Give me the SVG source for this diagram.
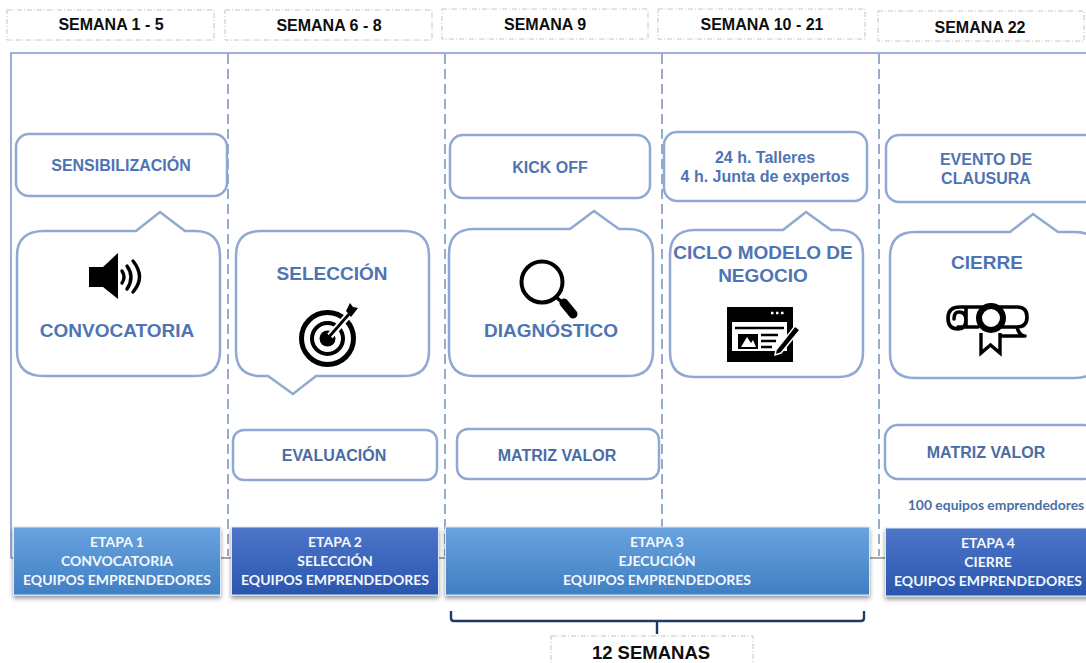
<svg xmlns="http://www.w3.org/2000/svg" width="1086" height="663" viewBox="0 0 1086 663">
<style>
text{font-family:"Liberation Sans",Arial,sans-serif;font-weight:700;text-anchor:middle}
.wk{fill:#0d0d0d;font-size:16px}
.wkbox{fill:#fff;stroke:#c4c4c4;stroke-width:1;stroke-dasharray:5 2 1 2}
.shape{fill:#fff;stroke:#8fa8d4;stroke-width:2.5}
.lb{fill:#4f74b3;font-size:16px}
.lg{fill:#4f74b3;font-size:19px}
.dk{fill:#4a6ca6}
.et{fill:#f4f8fd;font-family:"Lato","Open Sans",sans-serif;font-size:14px}
.note{fill:#4a6fa8;font-family:"Lato","Open Sans",sans-serif;font-size:13.900px}
.div{fill:none;stroke:#7f97bd;stroke-width:1.6;stroke-dasharray:10 5}
.ic{fill:#000}
.icl{fill:none;stroke:#000;stroke-linecap:round}
</style>
<defs>
<linearGradient id="gl" x1="0" y1="0" x2="0" y2="1"><stop offset="0" stop-color="#6aa3df"/><stop offset="1" stop-color="#3f7fc3"/></linearGradient>
<linearGradient id="gd" x1="0" y1="0" x2="0" y2="1"><stop offset="0" stop-color="#4d76c9"/><stop offset="1" stop-color="#2a56ae"/></linearGradient>
<filter id="sh" x="-5%" y="-10%" width="110%" height="125%"><feDropShadow dx="0" dy="3" stdDeviation="2" flood-color="#000" flood-opacity=".4"/></filter>
</defs>
<rect width="1086" height="663" fill="#fff"/>
<g id="connectors">
<path d="M11 558V53H1086" fill="none" stroke="#7f9ad0" stroke-width="1.6"/>
<path d="M11 558H1086" fill="none" stroke="#8a8a8a" stroke-width="1.4"/>
<path class="div" d="M228 54V556M445 54V556M662 54V527M879 54V556"/>
<path d="M451 611V618Q451 621 454 621H861Q864 621 864 618V611M657 621V634" fill="none" stroke="#1f3864" stroke-width="2.4"/>
</g>
<g id="week-1"><rect class="wkbox" x="7" y="10" width="207" height="30"/><text class="wk" x="111" y="30">SEMANA 1 - 5</text></g>
<g id="week-2"><rect class="wkbox" x="225" y="10" width="207" height="30"/><text class="wk" x="329" y="31">SEMANA 6 - 8</text></g>
<g id="week-3"><rect class="wkbox" x="442" y="9" width="206" height="30"/><text class="wk" x="545" y="30">SEMANA 9</text></g>
<g id="week-4"><rect class="wkbox" x="658" y="9" width="207" height="30"/><text class="wk" x="762" y="30">SEMANA 10 - 21</text></g>
<g id="week-5"><rect class="wkbox" x="878" y="11" width="206" height="30"/><text class="wk" x="980" y="33">SEMANA 22</text></g>

<g id="sensibilizacion"><rect class="shape" x="16" y="134" width="211" height="62" rx="13"/><text class="lb" x="121" y="171">SENSIBILIZACIÓN</text></g>
<g id="convocatoria">
<path class="shape" d="M44 231H136L160 212L185 231H195Q220 231 220 256V351Q220 376 195 376H44Q17 376 17 351V256Q17 231 44 231Z"/>
<path class="ic" d="M89 267H103L118 253V299L103 287H89Z"/>
<path class="icl" stroke-width="3.400" d="M122 271Q126 277 122 283M127 266Q135 277 127 289M133 261Q146 277 133 292"/>
<text class="lg" x="117" y="337">CONVOCATORIA</text></g>
<g id="seleccion">
<path class="shape" d="M261 231H404Q429 231 429 256V351Q429 376 404 376H316L293 394L268 376H261Q236 376 236 351V256Q236 231 261 231Z"/>
<text class="lg" x="332" y="280">SELECCIÓN</text>
<circle cx="327.500" cy="338.500" r="26" fill="none" stroke="#000" stroke-width="5"/>
<circle cx="327.500" cy="338.500" r="15.500" fill="none" stroke="#000" stroke-width="4"/>
<circle cx="327.500" cy="338.500" r="8" class="ic"/>
<path d="M330 336L352 311" stroke="#fff" stroke-width="7"/>
<path d="M328 338L350 313" stroke="#000" stroke-width="2.800"/>
<path class="ic" d="M346 311L350 303L353 307L358 308L351 317Z"/></g>
<g id="evaluacion"><rect class="shape" x="233" y="430" width="204" height="50" rx="11"/><text class="lb dk" x="334" y="461">EVALUACIÓN</text></g>

<g id="kickoff"><rect class="shape" x="450" y="135" width="200" height="63" rx="13"/><text class="lb" x="550" y="173">KICK OFF</text></g>
<g id="diagnostico">
<path class="shape" d="M474 229H570L594 211L619 229H628Q653 229 653 254V351Q653 376 628 376H474Q449 376 449 351V254Q449 229 474 229Z"/>
<circle cx="542" cy="282" r="20.500" fill="none" stroke="#000" stroke-width="4"/>
<path d="M556 297L564 304" stroke="#000" stroke-width="3.500"/>
<path d="M564 303L573 314" stroke="#000" stroke-width="9" stroke-linecap="round"/>
<text class="lg" x="551" y="337">DIAGNÓSTICO</text></g>
<g id="matriz-1"><rect class="shape" x="457" y="429" width="202" height="50" rx="11"/><text class="lb dk" x="557" y="461">MATRIZ VALOR</text></g>

<g id="talleres"><rect class="shape" x="664" y="132" width="203" height="69" rx="13"/><text class="lb" x="765" y="163">24 h. Talleres</text><text class="lb" x="765" y="182">4 h. Junta de expertos</text></g>
<g id="ciclo">
<path class="shape" d="M695 230H783L806 212L831 230H838Q863 230 863 255V352Q863 377 838 377H695Q670 377 670 352V255Q670 230 695 230Z"/>
<text class="lg" x="763" y="259">CICLO MODELO DE</text><text class="lg" x="763" y="282">NEGOCIO</text>
<rect x="727" y="307" width="66" height="55" class="ic"/>
<rect x="732" y="322" width="55" height="29" fill="#fff"/>
<path d="M735 328H784M761 335H778M761 341H776M761 347H772" stroke="#000" stroke-width="2.400"/>
<rect x="738" y="334" width="20" height="15" class="ic"/>
<path d="M741 347L747 337L751 343L753 340L756 347Z" fill="#fff"/>
<path d="M776 350L795 326L800 330L781 353L775 355Z" class="ic" stroke="#fff" stroke-width="1.500"/>
<path d="M771 313h2.500M776 313h2.500M781 313h2.500" stroke="#fff" stroke-width="2.500"/></g>

<g id="evento"><rect class="shape" x="886" y="135" width="212" height="67" rx="13"/><text class="lb" x="986" y="165">EVENTO DE</text><text class="lb" x="986" y="184">CLAUSURA</text></g>
<g id="cierre">
<path class="shape" d="M915 232H1010L1033 214L1058 232H1075Q1100 232 1100 257V353Q1100 378 1075 378H915Q890 378 890 353V257Q890 232 915 232Z"/>
<text class="lg" x="987" y="269">CIERRE</text>
<path class="icl" stroke-width="3.600" d="M960 307H1017Q1027 307 1027 317Q1027 327 1017 327H1002M978 327H958M960 307Q948 307 948 318Q948 329 958 329Q966 329 966 320Q966 312 959 312Q954 312 954 319M966 308V326M1000 336H1025M1017 327Q1019 335 1024 336"/>
<circle cx="991" cy="318" r="12" fill="#fff" stroke="#000" stroke-width="6"/>
<path d="M981 333V353L990.500 345L1000 353V333" fill="#fff" stroke="#000" stroke-width="3.400"/></g>
<g id="matriz-2"><rect class="shape" x="885" y="425" width="212" height="54" rx="13"/><text class="lb dk" x="986" y="458">MATRIZ VALOR</text></g>
<g id="equipos"><text class="note" x="996" y="510">100 equipos emprendedores</text></g>

<g id="etapa-1"><rect x="13.500" y="527" width="207" height="68" fill="url(#gl)" stroke="#dfe9f5" filter="url(#sh)"/><text class="et" x="117" y="547">ETAPA 1</text><text class="et" x="117" y="566">CONVOCATORIA</text><text class="et" x="117" y="585">EQUIPOS EMPRENDEDORES</text></g>
<g id="etapa-2"><rect x="231.500" y="527" width="207" height="68" fill="url(#gd)" stroke="#dfe9f5" filter="url(#sh)"/><text class="et" x="335" y="547">ETAPA 2</text><text class="et" x="335" y="566">SELECCIÓN</text><text class="et" x="335" y="585">EQUIPOS EMPRENDEDORES</text></g>
<g id="etapa-3"><rect x="445.500" y="527" width="424" height="68" fill="url(#gl)" stroke="#dfe9f5" filter="url(#sh)"/><text class="et" x="657" y="547">ETAPA 3</text><text class="et" x="657" y="566">EJECUCIÓN</text><text class="et" x="657" y="585">EQUIPOS EMPRENDEDORES</text></g>
<g id="etapa-4"><rect x="885.500" y="528" width="210" height="68" fill="url(#gd)" stroke="#dfe9f5" filter="url(#sh)"/><text class="et" x="988" y="548">ETAPA 4</text><text class="et" x="988" y="567">CIERRE</text><text class="et" x="988" y="586">EQUIPOS EMPRENDEDORES</text></g>
<g id="total"><rect class="wkbox" x="551" y="636" width="202" height="45"/><text class="wk" style="font-size:18.500px" x="651" y="659">12 SEMANAS</text></g>
</svg>
